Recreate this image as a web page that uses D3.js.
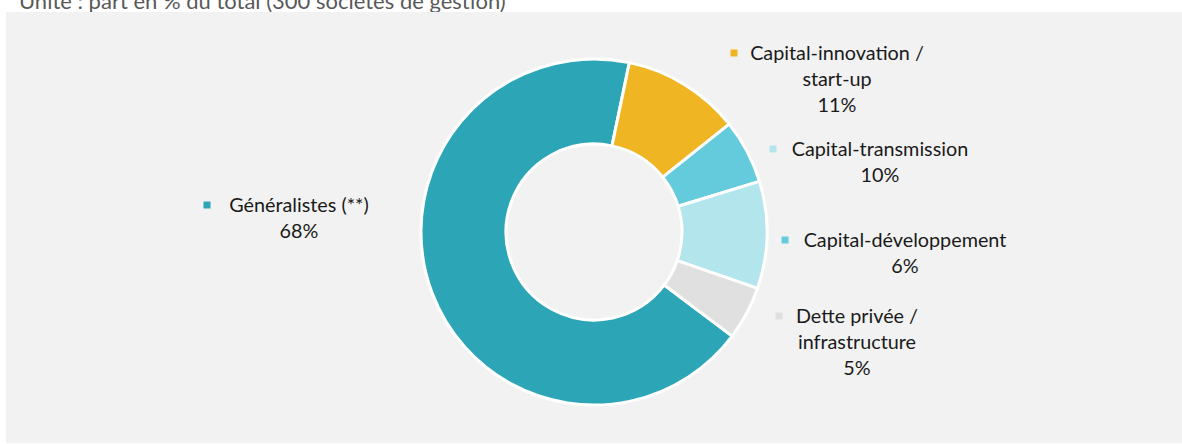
<!DOCTYPE html>
<html>
<head>
<meta charset="utf-8">
<script src="https://cdn.jsdelivr.net/npm/d3@7"></script>
<style>
  html, body { margin: 0; padding: 0; background: #ffffff; }
  svg { display: block; }
  text { font-family: Lato, "Noto Sans", sans-serif; }
</style>
</head>
<body>
<svg id="chart" width="1182" height="444"></svg>
<script>
// Répartition des sociétés de gestion par spécialité
const categories = [
  "Généralistes (**)",
  "Capital-innovation / start-up",
  "Capital-développement",
  "Capital-transmission",
  "Dette privée / infrastructure"
];
const shares = [68, 11, 6, 10, 5];
const colors = ["#2CA6B7", "#EFB522", "#63CBDB", "#B3E5EC", "#E0E0E0"];
const labelLines = [
  ["Généralistes (**)"],
  ["Capital-innovation /", "start-up"],
  ["Capital-développement"],
  ["Capital-transmission"],
  ["Dette privée /", "infrastructure"]
];
const subtitle = "Unité : part en % du total (300 sociétés de gestion)";

// label block placement (centre x, first baseline y, marker x)
const labelLayout = [
  { cx: 299, y: 212, mx: 207 },
  { cx: 837, y: 60,  mx: 734 },
  { cx: 905, y: 247, mx: 785 },
  { cx: 880, y: 156, mx: 773 },
  { cx: 857, y: 323, mx: 779 }
];
const lineGap = 26;

const svg = d3.select("#chart");
const W = 1182;

svg.append("text")
  .attr("x", 19).attr("y", 9)
  .attr("fill", "#595959")
  .attr("font-size", 22)
  .text(subtitle);

// grey panel drawn over the lower part of the subtitle line
svg.append("rect")
  .attr("x", 6).attr("y", 12)
  .attr("width", W - 6).attr("height", 431)
  .attr("fill", "#F2F2F2");

const cx = 594, cy = 232, outerR = 173, innerR = 88;
const startDeg = 127;
const start = startDeg * Math.PI / 180;

const pie = d3.pie().sort(null).value(d => d)
  .startAngle(start).endAngle(start + 2 * Math.PI);
const arc = d3.arc().innerRadius(innerR).outerRadius(outerR);

const g = svg.append("g").attr("transform", `translate(${cx},${cy})`);
g.selectAll("path")
  .data(pie(shares))
  .join("path")
  .attr("d", arc)
  .attr("fill", (d, i) => colors[i])
  .attr("stroke", "#ffffff")
  .attr("stroke-width", 3)
  .attr("stroke-linejoin", "round");

// data labels: marker + category + value
const lab = svg.append("g");
categories.forEach((c, i) => {
  const L = labelLayout[i];
  const lines = labelLines[i].concat([shares[i] + "%"]);
  lab.append("rect")
    .attr("x", L.mx - 3.5).attr("y", L.y - 10.5)
    .attr("width", 7).attr("height", 7)
    .attr("fill", colors[i]);
  lines.forEach((t, j) => {
    lab.append("text")
      .attr("x", L.cx).attr("y", L.y + j * lineGap)
      .attr("text-anchor", "middle")
      .attr("font-size", 19.8)
      .attr("fill", "#1A1A1A")
      .text(t);
  });
});
</script>
</body>
</html>
